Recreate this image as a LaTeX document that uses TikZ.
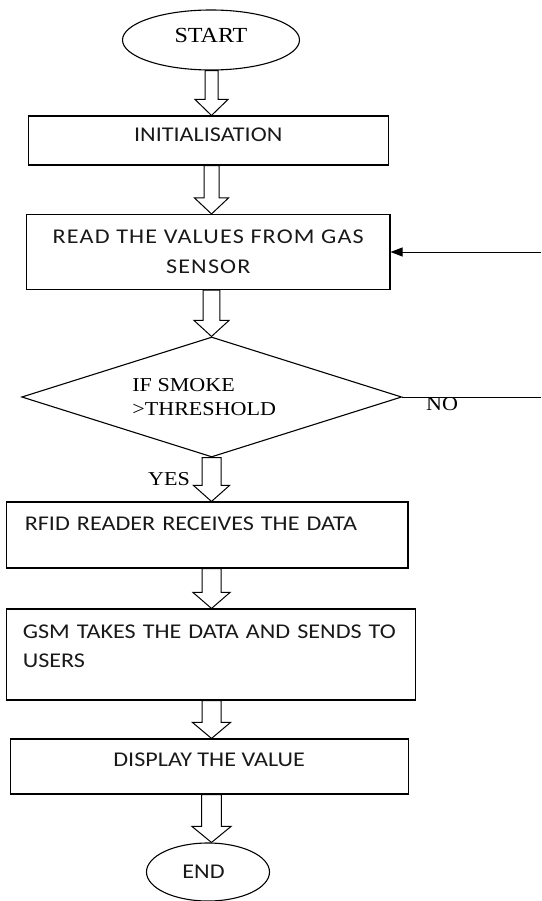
\documentclass[tikz,border=0pt]{standalone}
\usepackage{fontspec}
\setmainfont[FakeStretch=1.12]{Liberation Serif}
\newfontfamily\boxfont[FakeStretch=1.15]{Carlito}
\usetikzlibrary{shapes.geometric,arrows.meta,calc}
\tikzset{
  box/.style={draw, line width=1.1pt, rectangle, inner sep=0pt,
    font=\boxfont\fontsize{21}{28.5}\selectfont, text=black!90},
  term/.style={draw, line width=1.1pt, ellipse, inner sep=0pt},
  serifl/.style={font=\fontsize{19.7}{24}\selectfont},
  thin/.style={line width=1pt},
  hollow/.style 2 args={draw, line width=1pt, to path={
    ($(\tikztostart)+(-#1pt,0pt)$) -- ($(\tikztotarget)+(-#1pt,16pt)$)
    -- ($(\tikztotarget)+(-#2pt,16pt)$) -- (\tikztotarget)
    -- ($(\tikztotarget)+(#2pt,16pt)$) -- ($(\tikztotarget)+(#1pt,16pt)$)
    -- ($(\tikztostart)+(#1pt,0pt)$) -- cycle}},
}
\begin{document}
\begin{tikzpicture}[x=1pt,y=-1pt]
\useasboundingbox (0,0) rectangle (541,901);
\coordinate (ax) at (211.5,0);
\coordinate (rt) at (541,252);
\coordinate (nt) at (541,397);

\node[term, minimum width=177pt, minimum height=60pt,
  font=\fontsize{21.5}{26}\selectfont, text height=14pt, text depth=9pt]
  (start) at (211,40) {START};
\node[box, minimum width=359.7pt, minimum height=49pt,
  text height=13.3pt, text depth=11pt] (init) at (208.2,140.5) {INITIALISATION};
\node[box, minimum width=363.4pt, minimum height=75pt, align=center,
  font=\boxfont\fontsize{21}{29.5}\selectfont\addfontfeature{LetterSpace=5.5}]
  (read) at (208.3,252) {READ THE VALUES FROM GAS\\SENSOR};
\node[draw, line width=1.1pt, diamond, aspect=3.2, minimum width=380pt,
  minimum height=120pt, inner sep=0pt, align=left, serifl]
  (dec) at (211.7,397) {IF SMOKE\\>THRESHOLD\hbox to 15pt{}};
\node[box, text width=364.9pt, inner xsep=18.3pt, minimum height=66pt,
  align=left, text height=13.3pt, text depth=22pt]
  (rfid) at (207.25,535) {RFID READER RECEIVES THE DATA};
\node[box, text width=376.8pt, inner xsep=15.9pt, minimum height=91pt,
  align=left, text height=13.3pt, text depth=45pt]
  (gsm) at (211.2,654.5) {\mbox{GSM TAKES THE DATA AND SENDS TO}\\USERS};
\node[box, minimum width=397.7pt, minimum height=55pt,
  text height=13.3pt, text depth=13.6pt] (disp) at (209.2,766.5) {DISPLAY THE VALUE};
\node[term, minimum width=123pt, minimum height=58pt,
  font=\boxfont\fontsize{21}{25}\selectfont, text=black!90]
  (end) at (208,872) {END\hbox to 9pt{}};

\node[serifl] (yes) at (169,479) {YES};
\node[serifl] (no) at (442,404) {NO};

\draw[hollow={6.5}{16.5}] (start.south -| ax) to (init.north -| ax);
\draw[hollow={7.5}{17}] (init.south -| ax) to (read.north -| ax);
\draw[hollow={8.3}{17.5}] (read.south -| ax) to (dec.north -| ax);
\draw[hollow={9.5}{18}] (dec.south -| ax) to (rfid.north -| ax);
\draw[hollow={9.5}{18.5}] (rfid.south -| ax) to (gsm.north -| ax);
\draw[hollow={9.5}{19}] (gsm.south -| ax) to (disp.north -| ax);
\draw[hollow={9.8}{19.5}] (disp.south -| ax) to (end.north -| ax);

\draw[thin, -{Triangle[length=12pt,width=9pt]}] (rt) -- (read.east);
\draw[thin] (dec.east) -- (nt);
\end{tikzpicture}
\end{document}
